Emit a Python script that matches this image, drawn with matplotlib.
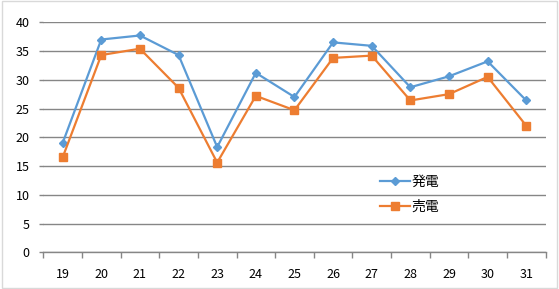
import matplotlib
matplotlib.use('Agg')
import matplotlib.pyplot as plt
from matplotlib.patches import Rectangle
import numpy as np

plt.rcParams['font.family'] = ['Noto Sans CJK JP', 'DejaVu Sans']

# data
days = ['19', '20', '21', '22', '23', '24', '25', '26', '27', '28', '29', '30', '31']
generation = [19.0, 37.0, 37.7, 34.3, 18.3, 31.2, 27.0, 36.5, 35.9, 28.7, 30.6, 33.2, 26.4]
sold = [16.5, 34.3, 35.4, 28.6, 15.6, 27.2, 24.7, 33.8, 34.2, 26.4, 27.5, 30.5, 22.0]
series_names = ['発電', '売電']

blue = '#5B9BD5'
orange = '#ED7D31'
grid_c = '#868686'

fig = plt.figure(figsize=(5.59, 2.89), dpi=100)
ax = fig.add_axes([0.0775, 0.127, 0.8985, 0.796])

x = np.arange(len(days))
ax.plot(x, generation, color=blue, lw=1.6, marker='D', markersize=4.5,
        label=series_names[0], zorder=3)
ax.plot(x, sold, color=orange, lw=1.6, marker='s', markersize=6,
        label=series_names[1], zorder=3)

ax.set_xlim(-0.5, len(days) - 0.5)
ax.set_ylim(0, 40)
ax.set_yticks(np.arange(0, 41, 5))
ax.yaxis.grid(True, color=grid_c, lw=1)
ax.set_axisbelow(True)

ax.set_xticks(x)
ax.set_xticklabels(days)
ax.set_xticks(np.arange(-0.5, len(days)), minor=True)
ax.tick_params(axis='x', which='major', length=0, pad=11, labelsize=9)
ax.tick_params(axis='x', which='minor', length=4, color=grid_c, width=1)
ax.tick_params(axis='y', length=3, color=grid_c, width=1, pad=7, labelsize=9)

for s in ['top', 'right', 'left']:
    ax.spines[s].set_visible(False)
ax.spines['bottom'].set_color(grid_c)
ax.spines['bottom'].set_linewidth(1)

leg = ax.legend(loc='upper left', bbox_to_anchor=(0.645, 0.39), frameon=False,
                fontsize=10, handlelength=2.2, handletextpad=0.1,
                labelspacing=0.8)

# chart area border
fig.patches.append(Rectangle((0.004, 0.004), 0.992, 0.992, transform=fig.transFigure,
                             fill=False, edgecolor='#d9d9d9', lw=1))

fig.savefig('out.png', dpi=100)
